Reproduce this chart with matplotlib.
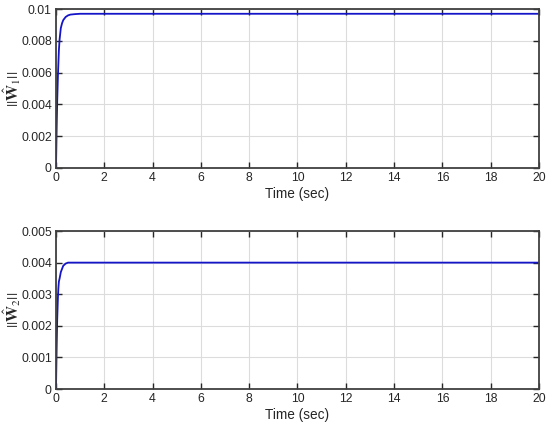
import matplotlib
matplotlib.use("Agg")
import matplotlib.pyplot as plt

# Data
t_vals = [0, 0.01, 0.03, 0.05, 0.08, 0.1, 0.12, 0.15, 0.2, 0.25, 0.3, 0.4, 0.5, 0.6, 0.8, 1.0, 1.2, 20]
w1_norm = [0, 0.0009, 0.0027, 0.0042, 0.0058, 0.0066, 0.0074, 0.0081, 0.0088, 0.0091, 0.0093,
           0.0095, 0.0096, 0.00965, 0.00968, 0.0097, 0.0097, 0.0097]
w2_norm = [0, 0.0005, 0.0014, 0.0022, 0.0029, 0.0032, 0.0034, 0.0035, 0.0037, 0.0038, 0.0039,
           0.00397, 0.004, 0.004, 0.004, 0.004, 0.004, 0.004]

x_ticks = [0, 2, 4, 6, 8, 10, 12, 14, 16, 18, 20]
y1_ticks = [0, 0.002, 0.004, 0.006, 0.008, 0.01]
y1_labels = ["0", "0.002", "0.004", "0.006", "0.008", "0.01"]
y2_ticks = [0, 0.001, 0.002, 0.003, 0.004, 0.005]
y2_labels = ["0", "0.001", "0.002", "0.003", "0.004", "0.005"]

plt.rcParams['font.family'] = ['Liberation Sans', 'DejaVu Sans']
plt.rcParams['mathtext.fontset'] = 'stix'

fig = plt.figure(figsize=(5.5, 4.29), dpi=100)
ax1 = fig.add_axes([0.1018, 0.6084, 0.8782, 0.3706])
ax2 = fig.add_axes([0.1018, 0.0932, 0.8782, 0.3683])

line_color = '#1414c8'
axis_color = '#404040'

def style(ax, yt, yl, ylabel, ymax):
    ax.set_xlim(0, 20)
    ax.set_ylim(0, ymax)
    ax.set_xticks(x_ticks)
    ax.set_xticklabels([str(v) for v in x_ticks])
    ax.set_yticks(yt)
    ax.set_yticklabels(yl)
    ax.grid(True, color='#dcdcdc', linewidth=0.8)
    ax.set_axisbelow(True)
    ax.tick_params(direction='in', top=True, right=True, length=4, width=1.0,
                   color='#262626', labelsize=8.8, labelcolor='#262626', pad=3)
    for sp in ax.spines.values():
        sp.set_color(axis_color)
        sp.set_linewidth(1.3)
    ax.set_xlabel('Time (sec)', fontsize=9.8, color='#262626', labelpad=2)
    ax.set_ylabel(ylabel, fontsize=11.5, color='#262626', va='center')
    ax.yaxis.set_label_coords(-0.09, 0.5)

ax1.plot(t_vals, w1_norm, color=line_color, linewidth=1.3)
style(ax1, y1_ticks, y1_labels, r'$||\hat{\mathbf{W}}_1||$', 0.01)

ax2.plot(t_vals, w2_norm, color=line_color, linewidth=1.3)
style(ax2, y2_ticks, y2_labels, r'$||\hat{\mathbf{W}}_2||$', 0.005)

fig.savefig('out.png', dpi=100)
